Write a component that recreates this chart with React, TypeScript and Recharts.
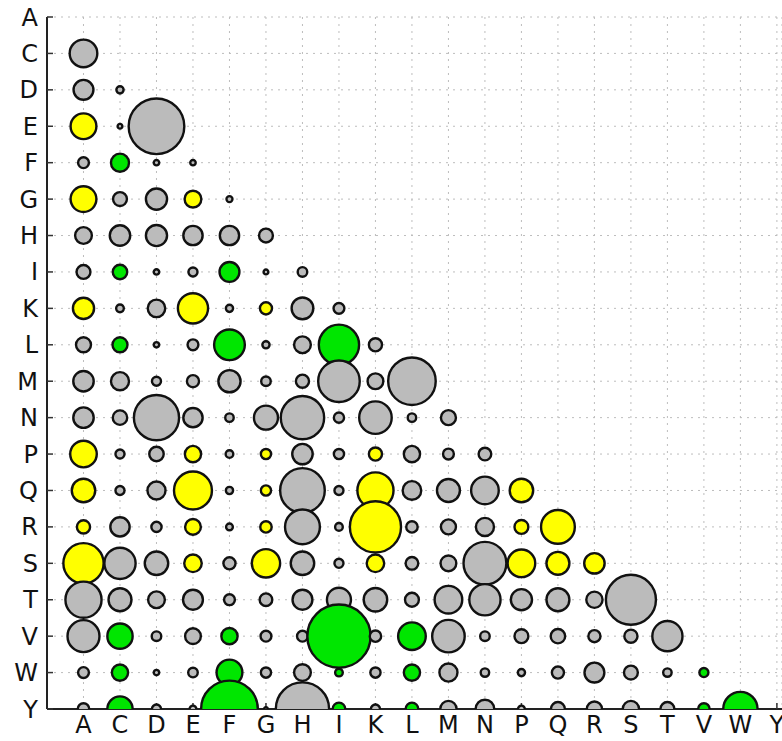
import { ScatterChart, Scatter, XAxis, YAxis, ZAxis, CartesianGrid, Cell } from 'recharts';

const residues = ['A', 'C', 'D', 'E', 'F', 'G', 'H', 'I', 'K', 'L', 'M', 'N', 'P', 'Q', 'R', 'S', 'T', 'V', 'W', 'Y'];

// bubble size per row (row i has one entry for each of the first i columns)
const sizeRows: number[][] = [
  [],
  [234],
  [121, 16],
  [204, 7, 949],
  [36, 100, 9, 9],
  [204, 59, 137, 86, 11],
  [86, 128, 137, 114, 114, 59],
  [59, 64, 9, 25, 121, 7, 28],
  [137, 18, 94, 279, 16, 45, 144, 36],
  [69, 69, 9, 36, 289, 16, 86, 497, 53],
  [128, 100, 25, 45, 151, 28, 53, 529, 76, 692],
  [128, 64, 625, 114, 22, 177, 576, 32, 324, 22, 69],
  [216, 25, 64, 81, 18, 32, 128, 32, 53, 81, 36, 49],
  [169, 25, 100, 441, 16, 32, 610, 25, 400, 106, 161, 234, 169],
  [53, 114, 32, 76, 14, 40, 372, 18, 801, 40, 69, 100, 59, 350],
  [497, 299, 169, 94, 45, 246, 169, 25, 94, 49, 76, 562, 234, 161, 128],
  [400, 161, 86, 121, 36, 49, 121, 177, 169, 59, 234, 299, 137, 161, 81, 767],
  [313, 196, 28, 76, 81, 36, 36, 1225, 40, 234, 324, 28, 59, 64, 45, 53, 279],
  [36, 81, 9, 28, 204, 32, 86, 18, 32, 81, 100, 22, 16, 45, 121, 59, 22, 25],
  [40, 196, 25, 14, 985, 4, 870, 49, 25, 49, 81, 106, 14, 59, 69, 81, 59, 40, 361],
];

// g = gray, y = yellow, G = green
const kindRows: string[] = [
  '',
  'g',
  'gg',
  'ygg',
  'gGgg',
  'yggyg',
  'gggggg',
  'gGggGgg',
  'yggygygg',
  'gGggGggGg',
  'gggggggggg',
  'ggggggggggg',
  'yggygyggyggg',
  'yggygyggygggy',
  'yggygyggygggyy',
  'yggygyggygggyyy',
  'gggggggggggggggg',
  'gGggGggGgGggggggg',
  'gGggGggGgGgggggggG',
  'gGggGggGgGgggggggGG',
];

const palette: Record<string, string> = { g: '#bbbbbb', y: '#ffff00', G: '#00e600' };

const points = sizeRows.flatMap((row, i) =>
  row.map((z, j) => ({ x: j, y: i, z, kind: kindRows[i][j] }))
);

const idx = residues.map((_, i) => i);
const font = { fontFamily: 'DejaVu Sans', fontSize: 24, fill: '#111' };

export default function App() {
  return (
    <div>
      <style>{'body{margin:0;background:#fff}'}</style>
      <ScatterChart width={782} height={741} margin={{ top: 17, right: 0, bottom: 0, left: 0 }}>
        <CartesianGrid stroke="#bdbdbd" strokeDasharray="2 5" />
        <ZAxis type="number" dataKey="z" domain={[0, 1000]} range={[0, 1000 * Math.PI]} />
        <Scatter data={points} stroke="#111" strokeWidth={2.4} isAnimationActive={false}>
          {points.map((p, i) => (
            <Cell key={i} fill={palette[p.kind]} />
          ))}
        </Scatter>
        <XAxis
          type="number"
          dataKey="x"
          domain={[-1, 19.14]}
          ticks={idx}
          interval={0}
          allowDataOverflow
          tickFormatter={(v) => residues[v] ?? ''}
          height={32}
          tickSize={-6}
          tickMargin={13}
          tick={font}
          axisLine={{ stroke: '#222', strokeWidth: 2 }}
          tickLine={{ stroke: '#333', strokeWidth: 1.5 }}
        />
        <XAxis
          xAxisId="top"
          orientation="top"
          type="number"
          domain={[-1, 19.14]}
          ticks={idx}
          interval={0}
          height={0}
          tick={false}
          tickSize={-6}
          axisLine={{ stroke: '#222', strokeWidth: 2 }}
          tickLine={{ stroke: '#333', strokeWidth: 1.5 }}
        />
        <YAxis
          type="number"
          dataKey="y"
          domain={[0, 19]}
          reversed
          allowDataOverflow
          ticks={idx}
          interval={0}
          tickFormatter={(v) => residues[v] ?? ''}
          width={47}
          tickSize={-6}
          tickMargin={15}
          tick={font}
          axisLine={{ stroke: '#222', strokeWidth: 2 }}
          tickLine={{ stroke: '#333', strokeWidth: 1.5 }}
        />
      </ScatterChart>
    </div>
  );
}
